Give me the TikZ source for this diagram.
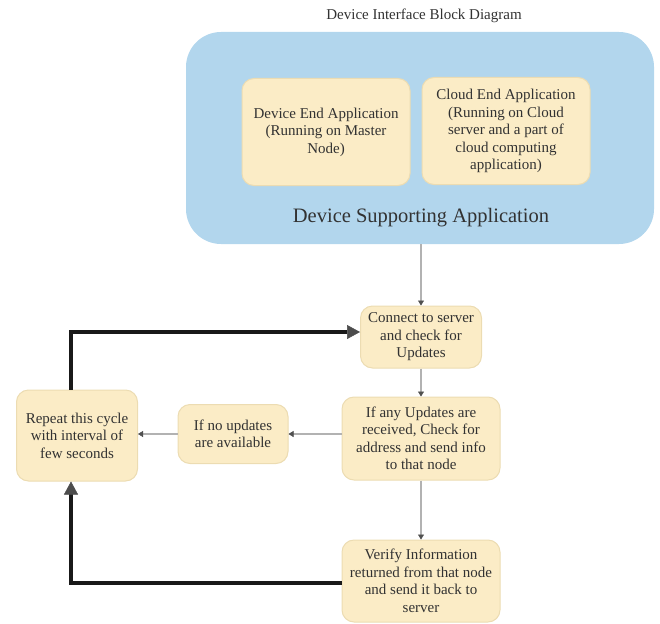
\documentclass[tikz,border=0pt]{standalone}
\usepackage{fontspec}
\setmainfont{Liberation Serif}
\usetikzlibrary{arrows.meta}
\definecolor{bluebg}{RGB}{178,214,237}
\definecolor{boxfill}{RGB}{251,236,198}
\definecolor{boxline}{RGB}{236,220,178}
\definecolor{txt}{RGB}{50,50,50}
\definecolor{garrow}{RGB}{178,178,178}
\definecolor{ghead}{RGB}{80,80,80}
\tikzset{
  ybox/.style={draw=boxline, line width=1pt, fill=boxfill, rounded corners=12pt, text=txt, align=center, font=\fontsize{15}{17.5}\selectfont, inner sep=0pt},
  thinarr/.style={draw=garrow, line width=1.5pt, -{Triangle[length=5pt,width=6pt,fill=ghead,color=ghead,line width=0.5pt]}},
  thickarr/.style={draw=black!90, line width=3.4pt, -{Triangle[length=13pt,width=14pt,fill=black!70,color=black!70,line width=0.5pt]}},
}
\begin{document}
\begin{tikzpicture}[x=1pt,y=-1pt]
\useasboundingbox (0,0) rectangle (660,623);
\node[text=txt, font=\fontsize{15}{17}\selectfont] (title) at (424,16) {Device Interface Block Diagram};
\node[fill=bluebg, rounded corners=35pt, minimum width=468pt, minimum height=212pt, inner sep=0pt] (cloud) at (420,138) {};
\node[ybox, minimum width=168pt, minimum height=107pt] (dev) at (326,132) {Device End Application\\(Running on Master\\Node)};
\node[ybox, minimum width=168pt, minimum height=107pt] (cld) at (506,131) {Cloud End Application\\(Running on Cloud\\server and a part of\\cloud computing\\application)};
\node[text=txt, font=\fontsize{20.5}{23}\selectfont] (dsa) at (421,218) {Device Supporting Application};
\node[ybox, minimum width=121pt, minimum height=62pt] (conn) at (421,337) {Connect to server\\and check for\\Updates};
\node[ybox, minimum width=158pt, minimum height=83pt] (any) at (421,438.5) {If any Updates are\\received, Check for\\address and send info\\to that node};
\node[ybox, minimum width=110pt, minimum height=59pt] (noup) at (233,434) {If no updates\\are available};
\node[ybox, minimum width=121pt, minimum height=91pt] (rep) at (77,435.5) {Repeat this cycle\\with interval of\\few seconds};
\node[ybox, minimum width=158pt, minimum height=82pt] (ver) at (421,581) {Verify Information\\returned from that node\\and send it back to\\server};
\draw[thinarr] (cloud.south -| conn.north) -- (conn.north);
\draw[thinarr] (conn) -- (any);
\draw[thinarr] (any.west |- noup.east) -- (noup.east);
\draw[thinarr] (noup.west) -- (noup.west -| rep.east);
\draw[thinarr] (any) -- (ver);
\coordinate (tl) at (71,332);
\coordinate (bl) at (71,583);
\draw[thickarr] (rep.north -| tl) -- (tl) -- (tl -| conn.west);
\draw[thickarr] (ver.west |- bl) -- (bl) -- (bl |- rep.south);
\end{tikzpicture}
\end{document}
